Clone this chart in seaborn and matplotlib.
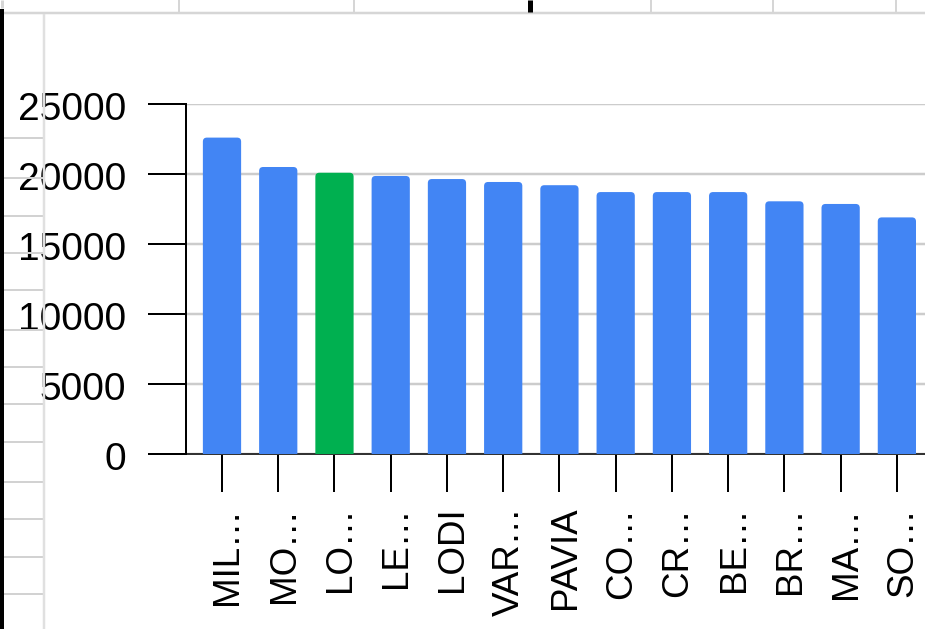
import matplotlib
matplotlib.use("Agg")
import matplotlib.pyplot as plt
import matplotlib.transforms as mtransforms
from matplotlib.lines import Line2D
from matplotlib.patches import FancyBboxPatch
import seaborn as sns

# data
provinces = ["MIL…", "MO…", "LO…", "LE…", "LODI", "VAR…", "PAVIA",
             "CO…", "CR…", "BE…", "BR…", "MA…", "SO…"]
values = [22600, 20500, 20090, 19860, 19640, 19430, 19200,
          18710, 18710, 18710, 18050, 17860, 16900]
highlight = "LO…"
y_ticks = [0, 5000, 10000, 15000, 20000, 25000]

BLUE = "#4285F4"
GREEN = "#00B050"
colors = {p: (GREEN if p == highlight else BLUE) for p in provinces}

sns.set_style("white")
plt.rcParams["font.family"] = ["Liberation Sans", "DejaVu Sans"]

W, H = 925, 629
PX = 0.72  # points per pixel at dpi 100
fig = plt.figure(figsize=(W / 100, H / 100), dpi=100)
fig.patch.set_facecolor("white")

# axes box in pixels: left 186, right 925, top 104, bottom 454
ax = fig.add_axes([186 / W, 1 - 454 / H, (W - 186) / W, (454 - 104) / H])

sns.barplot(x=provinces, y=values, hue=provinces, palette=colors,
            legend=False, width=0.68, saturation=1, ax=ax)

ax.set_xlim(-0.64, 12.5)
ax.set_ylim(0, 25000)
ax.set_yticks(y_ticks)
ax.set_yticklabels([str(t) for t in y_ticks])

# rounded top corners on the bars
x_per_px = (12.5 + 0.64) / (W - 186)
y_per_px = 25000 / 350
r = 4 * x_per_px
aspect = y_per_px / x_per_px
for p in list(ax.patches):
    x, w, h = p.get_x(), p.get_width(), p.get_height()
    extra = 10 * y_per_px
    fb = FancyBboxPatch((x, -extra), w, h + extra,
                        boxstyle=f"round,pad=0,rounding_size={r}",
                        mutation_aspect=aspect,
                        facecolor=p.get_facecolor(), edgecolor="none",
                        zorder=3, clip_on=True)
    ax.add_patch(fb)
    p.remove()

ax.grid(axis="y", color="#cccccc", linewidth=2.5 * PX)
ax.grid(axis="x", visible=False)
ax.set_axisbelow(True)

for s in ["top", "right"]:
    ax.spines[s].set_visible(False)
ax.spines["left"].set_color("black")
ax.spines["left"].set_linewidth(2 * PX)
ax.spines["bottom"].set_color("#333333")
ax.spines["bottom"].set_linewidth(2 * PX)
ax.spines["bottom"].set_zorder(1)

ax.tick_params(axis="y", length=38 * PX, width=2 * PX, color="black",
               pad=16, labelsize=28, labelcolor="black", left=True)
ax.tick_params(axis="x", length=38 * PX, width=2 * PX, color="black",
               pad=12, labelsize=26.5, labelcolor="black", bottom=True,
               labelrotation=90)
shift_x = mtransforms.ScaledTranslation(6 / 100, 2 / 100, fig.dpi_scale_trans)
for lab in ax.get_xticklabels():
    lab.set_verticalalignment("top")
    lab.set_transform(lab.get_transform() + shift_x)
shift_y = mtransforms.ScaledTranslation(0, -2 / 100, fig.dpi_scale_trans)
for lab in ax.get_yticklabels():
    lab.set_transform(lab.get_transform() + shift_y)

ax.set_xlabel("")
ax.set_ylabel("")


# spreadsheet grid visible around the chart
def fline(xs, ys, color, lw, z=5):
    fig.add_artist(Line2D([x / W for x in xs], [1 - y / H for y in ys],
                          transform=fig.transFigure, color=color,
                          linewidth=lw * PX, zorder=z, solid_capstyle="butt"))


fline([0, W], [13, 13], "#d6d6d6", 2.5)
for cx in [179, 354, 651, 773, 896]:
    fline([cx, cx], [0, 12], "#d6d6d6", 2)
fline([529.5, 529.5], [0, 12], "black", 5)
fline([1.5, 1.5], [0, 8], "#d6d6d6", 3)
fline([1.5, 1.5], [9, H], "black", 4)
for ry in [138, 178, 216, 253, 290, 330, 367, 404, 442, 482, 519, 557, 594]:
    fline([4, 43], [ry, ry], "#d2d2d2", 2)
fline([44, 44], [14, H], "#e0e0e0", 2.5, z=10)

fig.savefig("out.png", dpi=100)
